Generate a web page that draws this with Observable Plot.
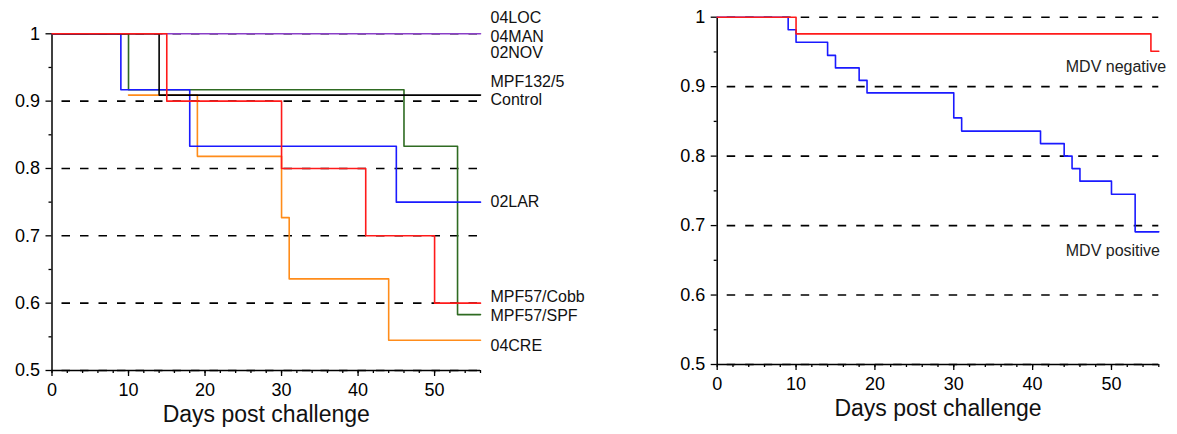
<!DOCTYPE html>
<html>
<head>
<meta charset="utf-8">
<script src="https://cdn.jsdelivr.net/npm/d3@7"></script>
<script src="https://cdn.jsdelivr.net/npm/@observablehq/plot@0.6"></script>
<style>
  html, body { margin: 0; padding: 0; background: white; }
  #wrap { display: flex; width: 1177px; height: 434px; }
  svg { overflow: visible; }
</style>
</head>
<body>
<div id="wrap"></div>
<script>
// ---------- data (left panel) ----------
const days_LOC = [0, 56];
const surv_LOC = [1, 1];
const days_Control = [0, 14, 56];
const surv_Control = [1, 0.909, 0.909];
const days_SPF = [0, 10, 46, 53, 56];
const surv_SPF = [1, 0.917, 0.833, 0.583, 0.583];
const days_LAR = [0, 9, 18, 45, 56];
const surv_LAR = [1, 0.917, 0.833, 0.75, 0.75];
const days_CRE = [10, 19, 30, 31, 44, 56];
const surv_CRE = [0.909, 0.818, 0.727, 0.636, 0.545, 0.545];
const days_Cobb = [0, 15, 30, 41, 50, 56];
const surv_Cobb = [1, 0.9, 0.8, 0.7, 0.6, 0.6];

const leftLabels = ["04LOC", "04MAN", "02NOV", "MPF132/5", "Control", "02LAR", "MPF57/Cobb", "MPF57/SPF", "04CRE"];
const leftLabelY = [1.024, 0.996, 0.972, 0.928, 0.902, 0.751, 0.610, 0.581, 0.537];

// ---------- data (right panel) ----------
const days_neg = [0, 10, 55, 56];
const surv_neg = [1, 0.976, 0.951, 0.951];
const days_pos = [0, 9, 10, 14, 15, 18, 19, 30, 31, 41, 44, 45, 46, 50, 53, 56];
const surv_pos = [1, 0.982, 0.964, 0.945, 0.927, 0.909, 0.891, 0.855, 0.836, 0.818, 0.8, 0.782, 0.764, 0.745, 0.691, 0.691];
const rightLabels = ["MDV negative", "MDV positive"];
const rightLabelX = [44.2, 44.2];
const rightLabelY = [0.928, 0.664];

// ---------- ticks ----------
const yMajor = [0.5, 0.6, 0.7, 0.8, 0.9, 1];
const yMinor = [0.55, 0.65, 0.75, 0.85, 0.95];
const yGrid = [0.5, 0.6, 0.7, 0.8, 0.9, 1];
const xMajor = [0, 10, 20, 30, 40, 50];
const xMinor = d3.range(0, 57, 2);
const xLabel = "Days post challenge";

const toRows = (d, s) => d.map((x, i) => ({x, y: s[i]}));
const font = "'Liberation Sans', Arial, Helvetica, sans-serif";
const yFmt = d => d === 1 ? "1" : d.toFixed(1);

function frameMarks(dashOffset) {
  return [
    Plot.ruleY(yGrid, {x1: 0, x2: 56, stroke: "black", strokeWidth: 1.6, strokeDasharray: "8.5,10", strokeDashoffset: dashOffset}),
    Plot.axisY({ticks: yMinor, tickSize: 3, tickFormat: () => "", label: null, strokeWidth: 1.3}),
    Plot.axisY({ticks: yMajor, tickSize: 6, tickPadding: 6, tickFormat: yFmt, label: null, fontSize: 18, strokeWidth: 1.3}),
    Plot.axisX({ticks: xMinor, tickSize: 3, tickFormat: () => "", label: null, strokeWidth: 1.3}),
    Plot.axisX({ticks: xMajor, tickSize: 6, tickPadding: 7, tickFormat: d => String(d), label: null, fontSize: 18, strokeWidth: 1.3}),
    Plot.ruleX([0], {y1: 0.5, y2: 1, stroke: "black", strokeWidth: 1.5}),
    Plot.ruleY([0.5], {x1: 0, x2: 56, stroke: "black", strokeWidth: 1.5}),
    Plot.text([xLabel], {frameAnchor: "bottom", dy: 44, fontSize: 23, lineAnchor: "middle", fill: "#111"})
  ];
}

const lineOpts = (color) => ({x: "x", y: "y", curve: "step-after", stroke: color, strokeWidth: 1.6});

const left = Plot.plot({
  width: 590, height: 434,
  marginLeft: 51.5, marginRight: 110, marginTop: 33.3, marginBottom: 64,
  style: {fontFamily: font, fontSize: "18px", background: "white", overflow: "visible", color: "black"},
  x: {domain: [0, 56]},
  y: {domain: [0.5, 1]},
  marks: [
    ...frameMarks(8.5),
    Plot.line(toRows(days_LOC, surv_LOC), lineOpts("#8a3fc8")),
    Plot.line(toRows(days_CRE, surv_CRE), lineOpts("#ff8c1a")),
    Plot.line(toRows(days_SPF, surv_SPF), lineOpts("#2f6b22")),
    Plot.line(toRows(days_LAR, surv_LAR), lineOpts("#1a1aff")),
    Plot.line(toRows(days_Control, surv_Control), lineOpts("#000000")),
    Plot.line(toRows(days_Cobb, surv_Cobb), lineOpts("#ff1a1a")),
    Plot.text(leftLabels, {x: () => 56, y: (d, i) => leftLabelY[i], text: d => d, dx: 10, textAnchor: "start", fontSize: 16, fill: "#111"})
  ]
});

const right = Plot.plot({
  width: 587, height: 434,
  marginLeft: 126.7, marginRight: 18.7, marginTop: 16.7, marginBottom: 70,
  style: {fontFamily: font, fontSize: "18px", background: "white", overflow: "visible", color: "black"},
  x: {domain: [0, 56]},
  y: {domain: [0.5, 1]},
  marks: [
    ...frameMarks(8.5),
    Plot.line(toRows(days_pos, surv_pos), lineOpts("#1a1aff")),
    Plot.line(toRows(days_neg, surv_neg), lineOpts("#ff1a1a")),
    Plot.text(rightLabels, {x: (d, i) => rightLabelX[i], y: (d, i) => rightLabelY[i], text: d => d, textAnchor: "start", fontSize: 16, fill: "#222"})
  ]
});

document.getElementById("wrap").append(left, right);
</script>
</body>
</html>
